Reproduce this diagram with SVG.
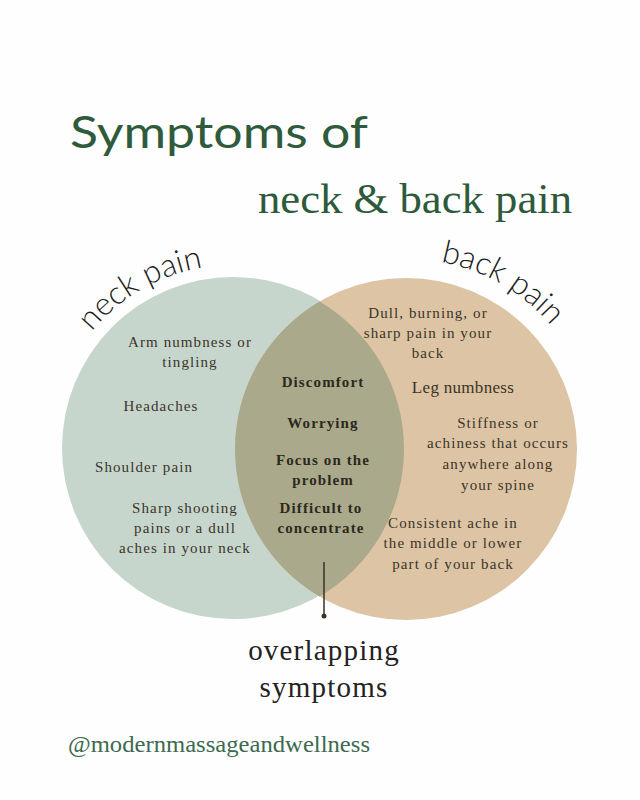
<svg xmlns="http://www.w3.org/2000/svg" width="640" height="800" viewBox="0 0 640 800">
<style>
.t{font-family:"Liberation Serif","DejaVu Serif",serif;font-size:15px;fill:#3b3428;text-anchor:middle;letter-spacing:1.1px}
.b{font-weight:bold;fill:#2c291c}
.arc{font-family:"Lato","Open Sans",sans-serif;font-size:32px;fill:#1e1e1e;font-weight:300}
</style>
<defs>
<path id="pn" d="M 50 448 A 183 183 0 0 1 324.5 289.5"/>
<path id="pb" d="M 311 284 A 191 191 0 0 1 597 449"/>
</defs>
<rect width="640" height="800" fill="#fefefe"/>
<g id="title">
<text x="70" y="148" font-family="Lato,'Open Sans',sans-serif" font-size="44" fill="#2f5a3c" textLength="298" lengthAdjust="spacingAndGlyphs">Symptoms of</text>
<text x="258" y="213" font-family="'Liberation Serif',serif" font-size="42" fill="#2c5a3b" textLength="314" lengthAdjust="spacingAndGlyphs">neck &amp; back pain</text>
</g>
<g id="neck-circle">
<circle cx="233" cy="448" r="171" fill="#c6d6cd"/>
</g>
<g id="back-circle">
<circle cx="406" cy="449" r="171" fill="#dcc4a4"/>
</g>
<g id="overlap">
<path d="M 319.5 301.5 A 171 171 0 0 1 319.5 596.5 A 171 171 0 0 1 319.5 301.5 Z" fill="#aaa98b"/>
</g>
<g id="labels">
<text class="arc"><textPath href="#pn" startOffset="50%" text-anchor="middle">neck pain</textPath></text>
<text class="arc"><textPath href="#pb" startOffset="50%" text-anchor="middle">back pain</textPath></text>
</g>
<g id="neck-items">
<text class="t" x="190" y="347">Arm numbness or</text>
<text class="t" x="190" y="367">tingling</text>
<text class="t" x="161" y="411">Headaches</text>
<text class="t" x="144" y="472">Shoulder pain</text>
<text class="t" x="185" y="513">Sharp shooting</text>
<text class="t" x="185" y="533">pains or a dull</text>
<text class="t" x="185" y="553">aches in your neck</text>
</g>
<g id="overlap-items">
<text class="t b" x="323" y="387">Discomfort</text>
<text class="t b" x="323" y="428">Worrying</text>
<text class="t b" x="323" y="465">Focus on the</text>
<text class="t b" x="323" y="485">problem</text>
<text class="t b" x="321" y="513">Difficult to</text>
<text class="t b" x="321" y="533">concentrate</text>
</g>
<g id="back-items">
<text class="t" x="428" y="318">Dull, burning, or</text>
<text class="t" x="428" y="338">sharp pain in your</text>
<text class="t" x="428" y="358">back</text>
<text class="t" x="463" y="393" style="font-size:17px;letter-spacing:0.3px">Leg numbness</text>
<text class="t" x="498" y="428">Stiffness or</text>
<text class="t" x="498" y="448">achiness that occurs</text>
<text class="t" x="498" y="469">anywhere along</text>
<text class="t" x="498" y="490">your spine</text>
<text class="t" x="453" y="528">Consistent ache in</text>
<text class="t" x="453" y="548">the middle or lower</text>
<text class="t" x="453" y="569">part of your back</text>
</g>
<g id="connectors">
<line x1="324" y1="562" x2="324" y2="616" stroke="#3a3226" stroke-width="1.5"/>
<circle cx="324" cy="616" r="2.5" fill="#3a3226"/>
</g>
<g id="callout">
<text x="324" y="660" font-family="'Liberation Serif',serif" font-size="29" fill="#222" text-anchor="middle" letter-spacing="1.2">overlapping</text>
<text x="324" y="697" font-family="'Liberation Serif',serif" font-size="29" fill="#222" text-anchor="middle" letter-spacing="1.2">symptoms</text>
</g>
<g id="footer">
<text x="68" y="752" font-family="'Liberation Serif',serif" font-size="23" fill="#3d6a4e" textLength="302" lengthAdjust="spacingAndGlyphs">@modernmassageandwellness</text>
</g>
</svg>
